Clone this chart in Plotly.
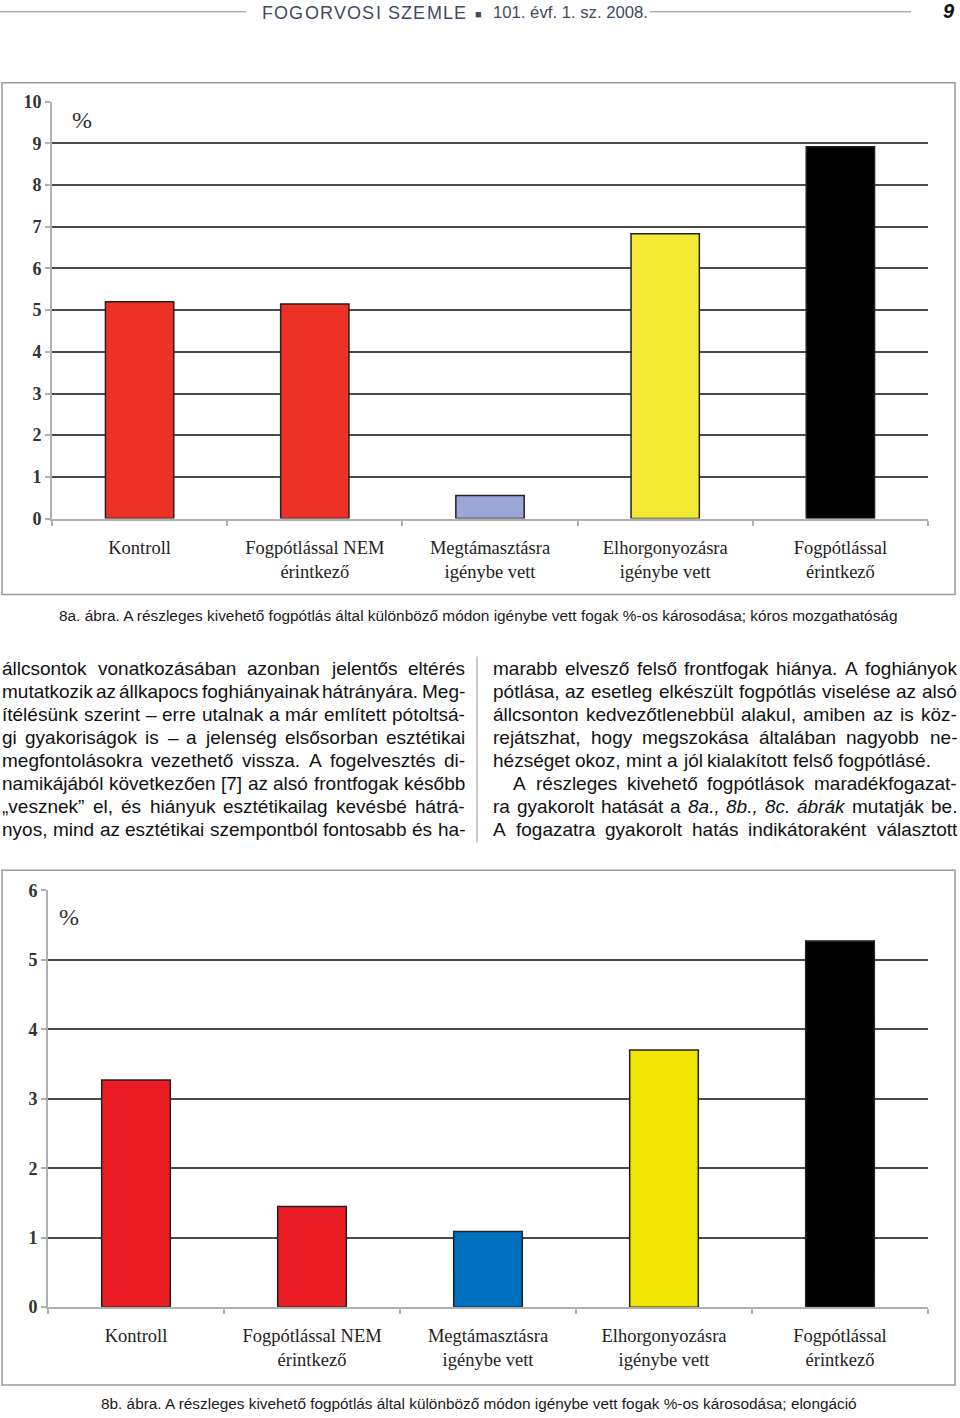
import plotly.graph_objects as go

W, H = 960, 1418

# ---------------- data ----------------
categories = ["Kontroll", "Fogpótlással NEM<br>érintkező", "Megtámasztásra<br>igénybe vett",
              "Elhorgonyozásra<br>igénybe vett", "Fogpótlással<br>érintkező"]
values_8a = [5.20, 5.15, 0.55, 6.83, 8.92]
values_8b = [3.27, 1.45, 1.09, 3.70, 5.27]
colors_8a = ["#ec3224", "#ec3224", "#9ba6d6", "#f2e935", "#000000"]
colors_8b = ["#ec1c24", "#ec1c24", "#0070c0", "#f0e500", "#000000"]
ticks_8a = list(range(0, 11))
ticks_8b = list(range(0, 7))

header_title = "FOGORVOSI SZEMLE"
header_issue = "101. évf. 1. sz. 2008."
page_number = "9"
caption_8a = "8a. ábra. A részleges kivehető fogpótlás által különböző módon igénybe vett fogak %-os károsodása; kóros mozgathatóság"
caption_8b = "8b. ábra. A részleges kivehető fogpótlás által különböző módon igénybe vett fogak %-os károsodása; elongáció"

# (text, justified, indented)
left_lines = [
    ("állcsontok vonatkozásában azonban jelentős eltérés", True, False),
    ("mutatkozik az állkapocs foghiányainak hátrányára. Meg-", True, False),
    ("ítélésünk szerint – erre utalnak a már említett pótoltsá-", True, False),
    ("gi gyakoriságok is – a jelenség elsősorban esztétikai", True, False),
    ("megfontolásokra vezethető vissza. A fogelvesztés di-", True, False),
    ("namikájából következően [7] az alsó frontfogak később", True, False),
    ("„vesznek” el, és hiányuk esztétikailag kevésbé hátrá-", True, False),
    ("nyos, mind az esztétikai szempontból fontosabb és ha-", True, False),
]
right_lines = [
    ("marabb elvesző felső frontfogak hiánya. A foghiányok", True, False),
    ("pótlása, az esetleg elkészült fogpótlás viselése az alsó", True, False),
    ("állcsonton kedvezőtlenebbül alakul, amiben az is köz-", True, False),
    ("rejátszhat, hogy megszokása általában nagyobb ne-", True, False),
    ("hézséget okoz, mint a jól kialakított felső fogpótlásé.", False, False),
    ("A részleges kivehető fogpótlások maradékfogazat-", True, True),
    ("ra gyakorolt hatását a <i>8a.,</i> <i>8b.,</i> <i>8c.</i> <i>ábrák</i> mutatják be.", True, False),
    ("A fogazatra gyakorolt hatás indikátoraként választott", True, False),
]

# ---------------- helpers ----------------
AW = {' ': 278, '.': 278, ',': 278, '-': 333, '–': 556, ';': 278, ':': 278, '[': 278, ']': 278,
      '„': 333, '”': 333, '%': 889, '(': 333, ')': 333, '■': 600}
for ch, w in zip("abcdefghijklmnopqrstuvwxyz",
                 [556, 556, 500, 556, 556, 278, 556, 556, 222, 222, 500, 222, 833, 556, 556, 556,
                  556, 333, 500, 278, 556, 500, 722, 500, 500, 500]):
    AW[ch] = w
for ch, w in zip("ABCDEFGHIJKLMNOPQRSTUVWXYZ",
                 [667, 667, 722, 722, 667, 611, 778, 722, 278, 500, 667, 556, 833, 722, 778, 667,
                  778, 722, 667, 611, 722, 667, 944, 667, 667, 611]):
    AW[ch] = w
for ch in "0123456789":
    AW[ch] = 556
for ch, base in zip("áéíóöőúüűÁÉÍÓÖŐÚÜŰ", "aeiooouuuAEIOOOUUU"):
    AW[ch] = AW[base]
AW['í'] = 278


def strip(t):
    return t.replace("<i>", "").replace("</i>", "")


def tw(text, size):
    return sum(AW.get(c, 556) for c in strip(text)) * size / 1000.0


# the rendering pipeline maps figure y to picture y as  y' = 0.9864*y + 9.2 ; compensate
YS, YO = 0.9864, 9.2


def px(x):
    return x / W


def py(y):
    return 1 - ((y - YO) / YS) / H


annotations = []
shapes = []


def add_text(x, y, text, size, family="Liberation Sans", color="#111", xanchor="left", **kw):
    annotations.append(dict(x=px(x), y=py(y), xref="paper", yref="paper", text=text,
                            showarrow=False, xanchor=xanchor, yanchor="middle",
                            font=dict(family=family, size=size, color=color, **kw)))


def add_line(x0, y0, x1, y1, color="#999", width=1):
    shapes.append(dict(type="line", xref="paper", yref="paper", x0=px(x0), y0=py(y0),
                       x1=px(x1), y1=py(y1), line=dict(color=color, width=width)))


def justify_block(lines, x0, x1, y0, lh, size):
    for i, (text, just, indent) in enumerate(lines):
        words = text.split(" ")
        xs = x0 + (20 if indent else 0)
        widths = [tw(w, size) for w in words]
        if just and len(words) > 1:
            gap = (x1 - xs - sum(widths)) / (len(words) - 1)
        else:
            gap = AW[' '] * size / 1000.0
        x = xs
        for w, wd in zip(words, widths):
            add_text(x, y0 + i * lh, w, size)
            x += wd + gap


def tracked(text, x0, x1, y, size, color):
    chars = list(text)
    widths = [tw(c, size) for c in chars]
    extra = (x1 - x0 - sum(widths)) / (len(chars) - 1)
    x = x0
    for c, wd in zip(chars, widths):
        if c != " ":
            add_text(x, y, c, size, color=color)
        x += wd + extra


# ---------------- figure ----------------
fig = go.Figure()
fig.add_trace(go.Bar(x=categories, y=values_8a, marker=dict(color=colors_8a, line=dict(color="#222", width=1.5)),
                     xaxis="x", yaxis="y", showlegend=False, hoverinfo="skip"))
fig.add_trace(go.Bar(x=categories, y=values_8b, marker=dict(color=colors_8b, line=dict(color="#222", width=1.5)),
                     xaxis="x2", yaxis="y2", showlegend=False, hoverinfo="skip"))

xcommon = dict(type="category", showline=True, linecolor="#b0b0b0", linewidth=2, ticks="outside",
               tickson="boundaries", ticklen=5, tickcolor="#b0b0b0", tickwidth=1.5, showgrid=False,
               tickfont=dict(family="Liberation Serif", size=18.5, color="#222"), ticklabelstandoff=11,
               fixedrange=True)
ycommon = dict(showline=True, linecolor="#b0b0b0", linewidth=2, ticks="outside", ticklen=5,
               tickcolor="#b0b0b0", tickwidth=1.5, showgrid=True, gridcolor="#4a4a4a", gridwidth=2.2,
               zeroline=False, tickfont=dict(family="Liberation Serif", size=18, color="#333", weight="bold"),
               fixedrange=True)

fig.update_layout(
    width=W, height=H, margin=dict(l=0, r=0, t=0, b=0),
    paper_bgcolor="white", plot_bgcolor="white", bargap=0.61,
    xaxis=dict(domain=[px(52), px(928)], anchor="y", **xcommon),
    yaxis=dict(domain=[py(518), py(101)], anchor="x", range=[0, 10], tickvals=ticks_8a, **ycommon),
    xaxis2=dict(domain=[px(48), px(928)], anchor="y2", **xcommon),
    yaxis2=dict(domain=[py(1307), py(890)], anchor="x2", range=[0, 6], tickvals=ticks_8b, **ycommon),
)

# chart frames
for (y0, y1) in [(82, 594), (870, 1385)]:
    shapes.append(dict(type="rect", xref="paper", yref="paper", x0=px(2), x1=px(955), y0=py(y1), y1=py(y0),
                       line=dict(color="#9a9a9a", width=1.5), fillcolor="rgba(0,0,0,0)"))

# % signs
add_text(82, 119, "%", 24, family="Liberation Serif", color="#333", xanchor="center")
add_text(69, 917, "%", 24, family="Liberation Serif", color="#333", xanchor="center")

# header
add_line(0, 11, 246, 11, color="#8a8a8a", width=1)
add_line(650, 11, 911, 11, color="#8a8a8a", width=1)
hc = "#3f4a63"
tracked(header_title, 260, 464, 12, 18, hc)
add_text(478, 13, "■", 11, color=hc, xanchor="center")
add_text(491, 12, header_issue, 16.7, color=hc)
add_text(957, 10, "<b><i>" + page_number + "</i></b>", 20, color="#111", xanchor="right")

# captions
s8a = 841 / (tw(caption_8a, 1000) / 1000)
add_text(57, 615, caption_8a, s8a, color="#1a1a1a")
s8b = 758 / (tw(caption_8b, 1000) / 1000)
add_text(99, 1403, caption_8b, s8b, color="#1a1a1a")

# body text
justify_block(left_lines, 0, 463, 668, 23, 19)
justify_block(right_lines, 491, 955, 668, 23, 19)
add_line(477, 656, 477, 842, color="#999", width=1)

fig.update_layout(annotations=annotations, shapes=shapes)
css_js = ("var s=document.createElement('style');"
          "s.innerHTML='html,body{margin:0!important;padding:0!important;}';"
          "document.head.appendChild(s);")
fig.write_html("out.html", config={"displayModeBar": False}, post_script=css_js)
